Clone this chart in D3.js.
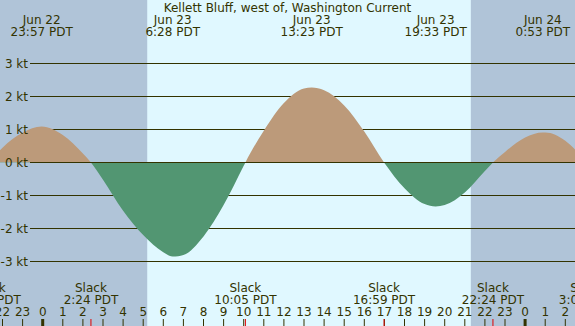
<!DOCTYPE html>
<html>
<head>
<meta charset="utf-8">
<script src="https://cdn.jsdelivr.net/npm/d3@7"></script>
<style>
  body { margin: 0; padding: 0; background: #fff; }
  svg { display: block; }
  text { font-family: "DejaVu Sans", sans-serif; font-size: 12px; fill: #333300; }
</style>
</head>
<body>
<div id="chart-container"></div>
<script>
// hourly current readings (hours from Jun 23 00:00 PDT), knots
const sampleHours = [-3, -2, -1, 0, 1, 2, 3, 4, 5, 6, 7, 8, 9, 10, 11, 12, 13, 14, 15, 16, 17, 18, 19, 20, 21, 22, 23, 24, 25, 26, 27];
const sampleKnots = [-0.25, 0.45, 0.9, 1.08, 0.83, 0.27, -0.52, -1.46, -2.2, -2.72, -2.8, -2.24, -1.29, -0.1, 0.96, 1.8, 2.24, 2.19, 1.73, 0.94, -0.02, -0.78, -1.26, -1.29, -0.91, -0.26, 0.32, 0.76, 0.91, 0.66, 0.03];

// max flood / ebb events
const maxDays = ["Jun 22", "Jun 23", "Jun 23", "Jun 23", "Jun 24"];
const maxTimes = ["23:57", "6:28", "13:23", "19:33", "0:53"];
const maxDayOffset = [-1, 0, 0, 0, 1];
const maxKnots = [1.09, -2.85, 2.27, -1.33, 0.91];

// slack events
const slackTimes = ["21:22", "2:24", "10:05", "16:59", "22:24", "3:02"];
const slackDayOffset = [-1, 0, 0, 0, 0, 1];

// sunrise / sunset on Jun 23
const sunrise = "5:12";
const sunset = "21:18";

const yTicks = [3, 2, 1, 0, -1, -2, -3];
const hourTicks = [-2, -1, 0, 1, 2, 3, 4, 5, 6, 7, 8, 9, 10, 11, 12, 13, 14, 15, 16, 17, 18, 19, 20, 21, 22, 23, 24, 25, 26];

const title = "Kellett Bluff, west of, Washington Current";

function toHours(t, dayOff) {
  const p = t.split(":");
  return (+p[0]) + (+p[1]) / 60 + 24 * dayOff;
}

const width = 575, height = 326;

const svg = d3.select("#chart-container")
  .append("svg")
  .attr("width", width)
  .attr("height", height);

const x = d3.scaleLinear().domain([0, 24]).range([42.7, 525.1]);
const y = d3.scaleLinear().domain([-3, 3]).range([261.5, 63.5]);

// day / night background
const riseX = x(toHours(sunrise, 0));
const setX = x(toHours(sunset, 0));
svg.append("rect").attr("x", 0).attr("y", 0).attr("width", width).attr("height", height).attr("fill", "#b0c4d8");
svg.append("rect").attr("x", riseX).attr("y", 0).attr("width", setX - riseX).attr("height", height).attr("fill", "#e0f8ff");

// grid lines
svg.selectAll(".grid")
  .data(yTicks)
  .enter()
  .append("line")
  .attr("x1", 30)
  .attr("x2", width)
  .attr("y1", (d) => y(d))
  .attr("y2", (d) => y(d))
  .attr("stroke", "#333300")
  .attr("stroke-width", 1);

// current curve: hourly readings + event points
let pts = sampleHours.map((h, i) => ({ h: h, v: sampleKnots[i] }));
maxTimes.forEach((t, i) => pts.push({ h: toHours(t, maxDayOffset[i]), v: maxKnots[i] }));
slackTimes.forEach((t, i) => pts.push({ h: toHours(t, slackDayOffset[i]), v: 0 }));
pts.sort((a, b) => a.h - b.h);
// drop points that sit too close to each other
pts = pts.filter((p, i) => i === 0 || p.h - pts[i - 1].h > 0.08);

const area = d3.area()
  .x((d) => x(d.h))
  .y0(y(0))
  .y1((d) => y(d.v))
  .curve(d3.curveMonotoneX);

const defs = svg.append("defs");
defs.append("clipPath").attr("id", "above")
  .append("rect").attr("x", 0).attr("y", 0).attr("width", width).attr("height", y(0));
defs.append("clipPath").attr("id", "below")
  .append("rect").attr("x", 0).attr("y", y(0)).attr("width", width).attr("height", height - y(0));

svg.append("path")
  .datum(pts)
  .attr("d", area)
  .attr("fill", "#bc9a7a")
  .attr("clip-path", "url(#above)");

svg.append("path")
  .datum(pts)
  .attr("d", area)
  .attr("fill", "#529672")
  .attr("clip-path", "url(#below)");

// zero line on top
svg.append("line")
  .attr("x1", 30).attr("x2", width)
  .attr("y1", y(0)).attr("y2", y(0))
  .attr("stroke", "#333300").attr("stroke-width", 1);

// y labels
svg.selectAll(".ylab")
  .data(yTicks)
  .enter()
  .append("text")
  .attr("x", 28)
  .attr("y", (d) => y(d) + 4.5)
  .style("text-anchor", "end")
  .text((d) => d + " kt");

// title
svg.append("text")
  .attr("x", width / 2)
  .attr("y", 11.5)
  .style("text-anchor", "middle")
  .text(title);

// max labels on top
maxTimes.forEach((t, i) => {
  const cx = x(toHours(t, maxDayOffset[i]));
  svg.append("text").attr("x", cx).attr("y", 24).style("text-anchor", "middle").text(maxDays[i]);
  svg.append("text").attr("x", cx).attr("y", 35.5).style("text-anchor", "middle").text(t + " PDT");
});

// slack labels at bottom
slackTimes.forEach((t, i) => {
  const cx = x(toHours(t, slackDayOffset[i]));
  svg.append("text").attr("x", cx).attr("y", 291.5).style("text-anchor", "middle").text("Slack");
  svg.append("text").attr("x", cx).attr("y", 304).style("text-anchor", "middle").text(t + " PDT");
});

// hour labels and ticks
svg.selectAll(".hlab")
  .data(hourTicks)
  .enter()
  .append("text")
  .attr("x", (d) => x(d))
  .attr("y", 316)
  .style("text-anchor", "middle")
  .text((d) => ((d % 24) + 24) % 24);

svg.selectAll(".htick")
  .data(hourTicks)
  .enter()
  .append("rect")
  .attr("x", (d) => x(d) - (d % 24 === 0 ? 1.5 : 0.5))
  .attr("y", 319)
  .attr("width", (d) => (d % 24 === 0 ? 3 : 1))
  .attr("height", 7)
  .attr("fill", "#333300");

// red ticks at slack
svg.selectAll(".stick")
  .data(slackTimes.map((t, i) => toHours(t, slackDayOffset[i])))
  .enter()
  .append("rect")
  .attr("x", (d) => x(d) - 0.5)
  .attr("y", 319)
  .attr("width", 1)
  .attr("height", 7)
  .attr("fill", "#e00000");
</script>
</body>
</html>
